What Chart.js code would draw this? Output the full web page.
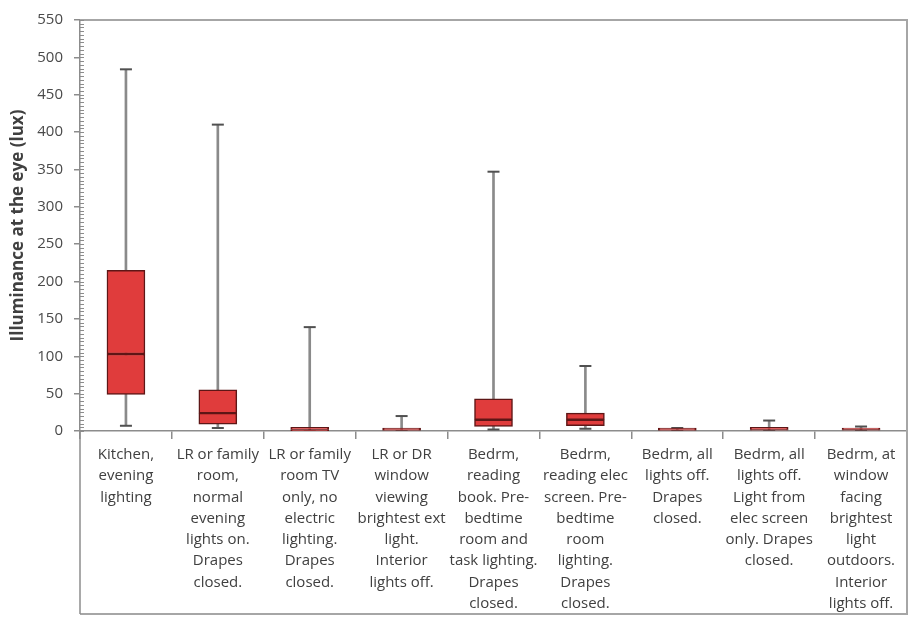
<!DOCTYPE html>
<html>
<head>
<meta charset="utf-8">
<script src="https://cdn.jsdelivr.net/npm/chart.js@4/dist/chart.umd.min.js"></script>
<style>
  html, body { margin: 0; padding: 0; background: #fff; }
  #wrap { width: 915px; height: 617px; position: relative; }
</style>
</head>
<body>
<div id="wrap"><canvas id="c" width="915" height="617"></canvas></div>
<script>
const categories = [
  ["Kitchen,", "evening", "lighting"],
  ["LR or family", "room,", "normal", "evening", "lights on.", "Drapes", "closed."],
  ["LR or family", "room TV", "only, no", "electric", "lighting.", "Drapes", "closed."],
  ["LR or DR", "window", "viewing", "brightest ext", "light.", "Interior", "lights off."],
  ["Bedrm,", "reading", "book. Pre-", "bedtime", "room and", "task lighting.", "Drapes", "closed."],
  ["Bedrm,", "reading elec", "screen. Pre-", "bedtime", "room", "lighting.", "Drapes", "closed."],
  ["Bedrm, all", "lights off.", "Drapes", "closed."],
  ["Bedrm, all", "lights off.", "Light from", "elec screen", "only. Drapes", "closed."],
  ["Bedrm, at", "window", "facing", "brightest", "light", "outdoors.", "Interior", "lights off."]
];
const minValues    = [7,   4,   0,   0,  2,   3,  0, 0,  0];
const q1Values     = [49,  9,   0.5, 0,  6,   7,  0, 0,  0];
const medianValues = [103, 24,  2,   1,  15,  15, 1, 2,  2];
const q3Values     = [215, 55,  5,   4,  43,  24, 4, 5,  4];
const maxValues    = [484, 410, 139, 20, 347, 87, 4, 14, 6];
const yTicks = [0, 50, 100, 150, 200, 250, 300, 350, 400, 450, 500, 550];

const boxFill = '#e03c3c';
const boxBorder = '#5e1616';

const whiskers = minValues.map((v, i) => [v, maxValues[i]]);
const lowerBox = q1Values.map((v, i) => [v, medianValues[i]]);
const upperBox = medianValues.map((v, i) => [v, q3Values[i]]);

const framePlugin = {
  id: 'frame',
  afterDraw(chart) {
    const ctx = chart.ctx;
    const a = chart.chartArea;
    const x = chart.scales.x;
    const y = chart.scales.y;
    const bottom = x.bottom;
    ctx.save();
    ctx.strokeStyle = '#a6a6a6';
    ctx.lineWidth = 2;
    ctx.beginPath();
    ctx.moveTo(a.left, a.top); ctx.lineTo(a.right, a.top);
    ctx.lineTo(a.right, bottom); ctx.lineTo(a.left, bottom);
    ctx.stroke();
    ctx.lineWidth = 1.5;
    ctx.strokeStyle = '#8c8c8c';
    ctx.beginPath();
    ctx.moveTo(a.left, a.bottom); ctx.lineTo(a.left, bottom);
    ctx.stroke();
    // minor ticks every 5 units, inside the axis
    ctx.lineWidth = 1;
    ctx.strokeStyle = '#8c8c8c';
    ctx.beginPath();
    for (let v = 0; v <= y.max; v += 5) {
      const py = Math.round(y.getPixelForValue(v)) + 0.5;
      ctx.moveTo(a.left, py); ctx.lineTo(a.left + 4, py);
    }
    ctx.stroke();
    ctx.restore();
  }
};

new Chart(document.getElementById('c'), {
  data: {
    labels: categories,
    datasets: [
      {
        type: 'bar', label: 'whisker', data: whiskers, grouped: false,
        barThickness: 2, backgroundColor: '#8a8a8a', borderWidth: 0, order: 4
      },
      {
        type: 'bar', label: 'q1-median', data: lowerBox, grouped: false,
        barThickness: 38, backgroundColor: boxFill, borderColor: boxBorder,
        borderWidth: 1.5, borderSkipped: false, order: 2
      },
      {
        type: 'bar', label: 'median-q3', data: upperBox, grouped: false,
        barThickness: 38, backgroundColor: boxFill, borderColor: boxBorder,
        borderWidth: 1.5, borderSkipped: false, order: 1
      },
      {
        type: 'line', label: 'max', data: maxValues, showLine: false,
        pointStyle: 'line', pointRadius: 6, pointBorderWidth: 2,
        pointBorderColor: '#505050', order: 3
      },
      {
        type: 'line', label: 'min', data: minValues, showLine: false,
        pointStyle: 'line', pointRadius: 6, pointBorderWidth: 2,
        pointBorderColor: '#505050', order: 3
      }
    ]
  },
  options: {
    responsive: false,
    animation: false,
    events: [],
    layout: { padding: { top: 18, right: 3, bottom: 3, left: 0 } },
    plugins: { legend: { display: false }, tooltip: { enabled: false } },
    scales: {
      x: {
        type: 'category',
        offset: true,
        grid: { display: true, drawOnChartArea: false, offset: true, tickLength: 8, color: '#8c8c8c', lineWidth: 1.5 },
        border: { display: true, color: '#8c8c8c', width: 1.5 },
        ticks: {
          maxRotation: 0, minRotation: 0, autoSkip: false, padding: 5,
          color: '#404040',
          font: { family: 'Open Sans', size: 15, lineHeight: '21.3px' }
        },
        afterFit(s) { s.height = 183; }
      },
      y: {
        min: 0, max: 550,
        afterBuildTicks(s) { s.ticks = yTicks.map(v => ({ value: v })); },
        grid: { display: true, drawOnChartArea: false, tickLength: 6, color: '#8c8c8c', lineWidth: 1.5 },
        border: { display: true, color: '#8c8c8c', width: 1.5 },
        ticks: {
          color: '#4a4a4a', padding: 11,
          font: { family: 'Open Sans', size: 15 }
        },
        title: {
          display: true, text: 'Illuminance at the eye (lux)', color: '#404040',
          font: { family: 'Open Sans', size: 17, weight: 'bold' }, padding: { top: 8, bottom: 0 }
        },
        afterFit(s) { s.width = 80; }
      }
    }
  },
  plugins: [framePlugin]
});
</script>
</body>
</html>
